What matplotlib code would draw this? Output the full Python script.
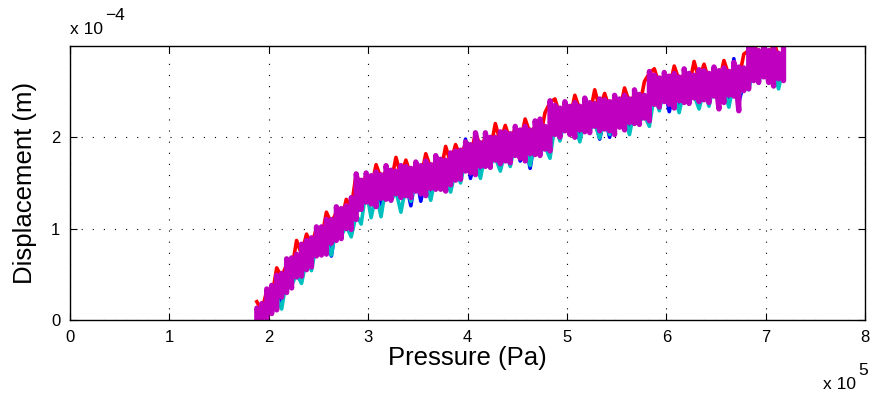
import numpy as np
import matplotlib
matplotlib.use("Agg")
import matplotlib.pyplot as plt

plt.rcParams['font.family'] = ['Liberation Sans', 'DejaVu Sans']

# Pressure samples, units of 1e5 Pa
pressure = [1.88, 1.93, 1.98, 2.03, 2.08, 2.13, 2.18, 2.23, 2.28, 2.33,
            2.38, 2.43, 2.48, 2.53, 2.58, 2.63, 2.68, 2.73, 2.78, 2.83,
            2.88, 2.93, 2.98, 3.03, 3.08, 3.13, 3.18, 3.23, 3.28, 3.33,
            3.38, 3.43, 3.48, 3.53, 3.58, 3.63, 3.68, 3.73, 3.78, 3.83,
            3.88, 3.93, 3.98, 4.03, 4.08, 4.13, 4.18, 4.23, 4.28, 4.33,
            4.38, 4.43, 4.48, 4.53, 4.58, 4.63, 4.68, 4.73, 4.78, 4.83,
            4.88, 4.93, 4.98, 5.03, 5.08, 5.13, 5.18, 5.23, 5.28, 5.33,
            5.38, 5.43, 5.48, 5.53, 5.58, 5.63, 5.68, 5.73, 5.78, 5.83,
            5.88, 5.93, 5.98, 6.03, 6.08, 6.13, 6.18, 6.23, 6.28, 6.33,
            6.38, 6.43, 6.48, 6.53, 6.58, 6.63, 6.68, 6.73, 6.78, 6.83,
            6.88, 6.93, 6.98, 7.03, 7.08, 7.13, 7.18]

# Displacement traces, units of 1e-4 m
disp_blue = [0.00, 0.00, 0.20, 0.11, 0.31, 0.18, 0.49, 0.41, 0.56, 0.49,
             0.69, 0.60, 0.88, 0.75, 0.92, 0.70, 1.06, 0.95, 1.09, 1.00,
             1.18, 1.23, 1.47, 1.31, 1.44, 1.26, 1.51, 1.37, 1.47, 1.35,
             1.50, 1.25, 1.59, 1.30, 1.56, 1.37, 1.62, 1.49, 1.59, 1.49,
             1.67, 1.56, 1.98, 1.55, 1.79, 1.61, 1.87, 1.73, 1.84, 1.72,
             1.88, 1.74, 1.98, 1.74, 1.94, 1.66, 2.00, 1.86, 1.96, 1.86,
             2.17, 2.02, 2.25, 2.07, 2.20, 2.01, 2.25, 2.11, 2.21, 1.98,
             2.23, 2.00, 2.32, 2.15, 2.28, 2.09, 2.34, 2.20, 2.30, 2.21,
             2.50, 2.35, 2.57, 2.28, 2.52, 2.33, 2.57, 2.43, 2.52, 2.40,
             2.55, 2.40, 2.63, 2.46, 2.58, 2.39, 2.86, 2.38, 2.60, 2.61,
             2.80, 2.65, 2.86, 2.68, 2.79, 2.59, 2.82]

disp_green = [0.08, 0.00, 0.30, 0.21, 0.38, 0.28, 0.59, 0.48, 0.67, 0.56,
              0.82, 0.70, 0.98, 0.85, 0.99, 0.87, 1.16, 1.02, 1.20, 1.07,
              1.31, 1.33, 1.57, 1.41, 1.51, 1.36, 1.61, 1.44, 1.58, 1.42,
              1.63, 1.46, 1.69, 1.52, 1.63, 1.47, 1.72, 1.56, 1.70, 1.56,
              1.80, 1.66, 1.91, 1.75, 1.86, 1.71, 1.97, 1.80, 1.95, 1.79,
              2.01, 1.84, 2.08, 1.91, 2.01, 1.85, 2.10, 1.93, 2.07, 1.93,
              2.30, 2.12, 2.35, 2.17, 2.27, 2.11, 2.35, 2.18, 2.32, 2.15,
              2.36, 2.19, 2.42, 2.25, 2.35, 2.19, 2.44, 2.27, 2.41, 2.28,
              2.63, 2.45, 2.67, 2.50, 2.59, 2.43, 2.67, 2.50, 2.63, 2.47,
              2.68, 2.50, 2.73, 2.56, 2.65, 2.49, 2.74, 2.57, 2.71, 2.68,
              2.93, 2.75, 2.96, 2.78, 2.86, 2.69, 2.92]

disp_red = [0.20, 0.10, 0.32, 0.24, 0.57, 0.47, 0.61, 0.54, 0.87, 0.72,
            0.94, 0.82, 1.00, 0.88, 1.18, 1.06, 1.18, 1.08, 1.32, 1.23,
            1.60, 1.45, 1.59, 1.44, 1.70, 1.55, 1.63, 1.50, 1.78, 1.58,
            1.75, 1.58, 1.71, 1.55, 1.82, 1.66, 1.74, 1.62, 1.90, 1.72,
            1.92, 1.78, 1.93, 1.78, 2.05, 1.90, 1.99, 1.86, 2.15, 1.95,
            2.13, 1.96, 2.10, 1.94, 2.20, 2.04, 2.12, 1.99, 2.27, 2.38,
            2.42, 2.24, 2.37, 2.20, 2.46, 2.30, 2.37, 2.24, 2.52, 2.31,
            2.48, 2.31, 2.44, 2.28, 2.54, 2.38, 2.46, 2.33, 2.61, 2.70,
            2.75, 2.57, 2.69, 2.53, 2.78, 2.62, 2.69, 2.56, 2.83, 2.63,
            2.80, 2.62, 2.75, 2.59, 2.84, 2.68, 2.76, 2.63, 2.91, 2.95,
            3.05, 2.87, 2.98, 2.81, 3.05, 2.88, 2.94]

disp_cyan = [0.00, 0.00, 0.16, 0.07, 0.25, 0.12, 0.45, 0.38, 0.50, 0.40,
             0.66, 0.54, 0.84, 0.71, 0.86, 0.71, 1.02, 0.92, 1.03, 0.91,
             1.15, 1.05, 1.43, 1.12, 1.38, 1.13, 1.47, 1.30, 1.41, 1.18,
             1.47, 1.30, 1.55, 1.38, 1.50, 1.31, 1.58, 1.46, 1.53, 1.40,
             1.64, 1.50, 1.77, 1.61, 1.73, 1.55, 1.83, 1.70, 1.78, 1.63,
             1.85, 1.68, 1.94, 1.77, 1.88, 1.69, 1.96, 1.83, 1.90, 1.77,
             2.14, 1.96, 2.21, 2.03, 2.14, 1.95, 2.21, 2.08, 2.15, 1.99,
             2.20, 2.03, 2.28, 2.11, 2.22, 2.03, 2.30, 2.17, 2.24, 2.12,
             2.47, 2.29, 2.53, 2.36, 2.46, 2.27, 2.53, 2.40, 2.46, 2.31,
             2.52, 2.34, 2.59, 2.42, 2.52, 2.33, 2.60, 2.47, 2.54, 2.52,
             2.77, 2.59, 2.82, 2.64, 2.73, 2.53, 2.78]

# Magenta trace swings between a low and a high reading at each pressure
disp_magenta_low = [0.00, 0.00, 0.02, 0.07, 0.11, 0.25, 0.30, 0.35, 0.47, 0.48,
                    0.55, 0.58, 0.70, 0.71, 0.72, 0.84, 0.87, 0.89, 1.00, 0.99,
                    1.10, 1.21, 1.29, 1.27, 1.24, 1.33, 1.32, 1.31, 1.38, 1.34,
                    1.36, 1.34, 1.41, 1.38, 1.36, 1.44, 1.43, 1.43, 1.41, 1.48,
                    1.53, 1.54, 1.63, 1.61, 1.59, 1.68, 1.68, 1.67, 1.75, 1.71,
                    1.74, 1.72, 1.80, 1.77, 1.74, 1.82, 1.81, 1.80, 1.87, 1.85,
                    2.03, 2.00, 2.07, 2.03, 2.00, 2.08, 2.06, 2.05, 2.12, 2.07,
                    2.09, 2.07, 2.03, 2.11, 2.08, 2.16, 2.15, 2.14, 2.21, 2.18,
                    2.36, 2.33, 2.39, 2.36, 2.32, 2.40, 2.38, 2.37, 2.43, 2.39,
                    2.41, 2.38, 2.45, 2.31, 2.38, 2.46, 2.45, 2.29, 2.51, 2.53,
                    2.62, 2.60, 2.66, 2.60, 2.56, 2.64, 2.62]

disp_magenta_high = [0.13, 0.18, 0.34, 0.38, 0.49, 0.51, 0.67, 0.68, 0.72, 0.83,
                     0.87, 0.90, 1.02, 1.02, 1.10, 1.10, 1.24, 1.22, 1.25, 1.34,
                     1.60, 1.53, 1.61, 1.58, 1.62, 1.59, 1.69, 1.64, 1.63, 1.69,
                     1.68, 1.66, 1.73, 1.69, 1.74, 1.70, 1.80, 1.76, 1.75, 1.83,
                     1.85, 1.86, 1.95, 1.92, 2.05, 1.94, 2.05, 2.00, 2.00, 2.06,
                     2.06, 2.04, 2.12, 2.08, 2.12, 2.08, 2.18, 2.20, 2.12, 2.40,
                     2.35, 2.32, 2.39, 2.34, 2.38, 2.34, 2.43, 2.38, 2.37, 2.42,
                     2.41, 2.39, 2.46, 2.42, 2.46, 2.42, 2.52, 2.47, 2.46, 2.72,
                     2.68, 2.65, 2.71, 2.67, 2.70, 2.66, 2.75, 2.70, 2.68, 2.74,
                     2.73, 2.70, 2.77, 2.73, 2.76, 2.72, 2.82, 2.77, 2.76, 3.00,
                     2.98, 2.95, 3.00, 2.95, 2.97, 2.92, 3.00]

x_ticks = [0, 1, 2, 3, 4, 5, 6, 7, 8]
y_ticks = [0, 1, 2]

fig = plt.figure(figsize=(8.75, 3.96), dpi=100)
ax = fig.add_axes([0.08, 0.192, 0.9086, 0.692])

lw = 2.6
ax.plot(pressure, disp_blue, color=(0, 0, 1), lw=lw)
ax.plot(pressure, disp_green, color=(0, 0.5, 0), lw=lw)
ax.plot(pressure, disp_red, color=(1, 0, 0), lw=lw)
ax.plot(pressure, disp_cyan, color=(0, 0.75, 0.75), lw=lw)
xm = np.repeat(np.asarray(pressure), 2)
ym = np.column_stack([disp_magenta_low, disp_magenta_high]).ravel()
ax.plot(xm, ym, color=(0.75, 0, 0.75), lw=3.8)

ax.set_xlim(0, 8)
ax.set_ylim(0, 3)
ax.set_xticks(x_ticks)
ax.set_yticks(y_ticks)
ax.set_xticklabels([str(t) for t in x_ticks])
ax.set_yticklabels([str(t) for t in y_ticks])
ax.tick_params(direction='in', length=5, width=0.8, labelsize=12,
               top=True, right=True, pad=7, colors='black')
ax.grid(True, color='black', linestyle=(0, (1, 9)), linewidth=0.8)
for s in ax.spines.values():
    s.set_linewidth(1.0)
    s.set_color('black')

ax.set_xlabel('Pressure (Pa)', fontsize=18.5, labelpad=1)
ax.set_ylabel('Displacement (m)', fontsize=18.5, labelpad=10)

W, H = 875, 396
fig.text(70 / W, 1 - 34 / H, 'x 10', fontsize=12.5, ha='left', va='baseline')
fig.text(105 / W, 1 - 20 / H, '\u22124', fontsize=12.5, ha='left', va='baseline')
fig.text(823 / W, 1 - 389 / H, 'x 10', fontsize=12.5, ha='left', va='baseline')
fig.text(858 / W, 1 - 375 / H, '5', fontsize=12.5, ha='left', va='baseline')

fig.savefig('out.png', dpi=100)
